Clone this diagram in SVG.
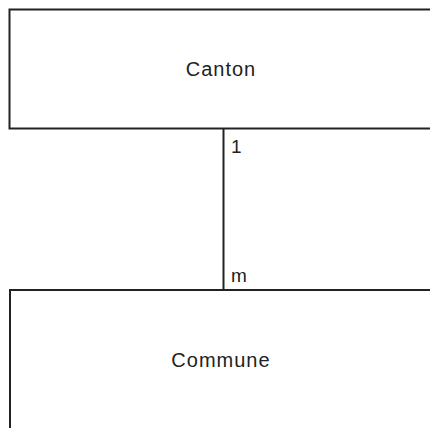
<svg xmlns="http://www.w3.org/2000/svg" width="430" height="428" viewBox="0 0 430 428">
<style>
.box{fill:#fff;stroke:#222;stroke-width:2}
.lbl{font-family:"Liberation Sans",Arial,sans-serif;font-size:20px;fill:#222;letter-spacing:1px}
.card{font-family:"Liberation Sans",Arial,sans-serif;font-size:19px;fill:#222}
.conn{stroke:#222;stroke-width:2;fill:none}
</style>
<rect width="430" height="428" fill="#fff"/>
<g id="connectors">
<line class="conn" x1="223.5" y1="129" x2="223.5" y2="290"/>
<text class="card" x="231" y="153">1</text>
<text class="card" x="231" y="282">m</text>
</g>
<g id="canton">
<rect class="box" x="9.5" y="9.5" width="440" height="119"/>
<text class="lbl" x="221" y="76" text-anchor="middle">Canton</text>
</g>
<g id="commune">
<rect class="box" x="10" y="290" width="440" height="160"/>
<text class="lbl" x="221" y="367" text-anchor="middle">Commune</text>
</g>
</svg>
